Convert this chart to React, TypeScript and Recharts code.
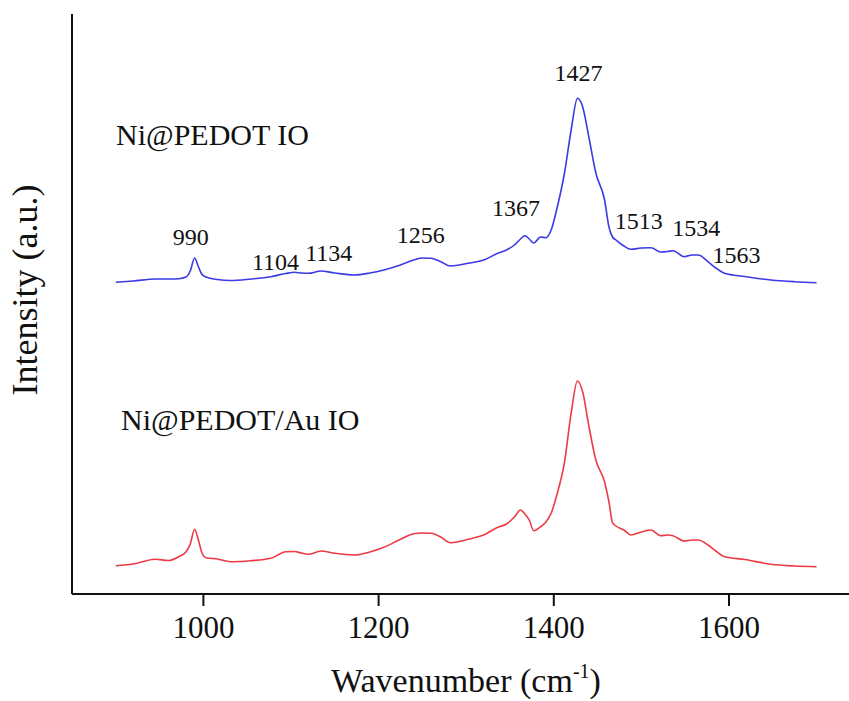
import React from 'react';
import { LineChart, Line, XAxis, YAxis, ReferenceDot } from 'recharts';

// Raman shift grid shared by both spectra (cm^-1)
const wavenumbers = [
  900, 920, 945, 960, 972, 980, 985, 990, 994, 998, 1003, 1016, 1031, 1054, 1077, 1094, 1104, 1112, 1120,
  1134, 1150, 1172, 1190, 1206, 1225, 1240, 1250, 1260, 1271, 1282, 1292, 1302, 1320, 1336, 1346, 1355,
  1362, 1367, 1372, 1377, 1385, 1391, 1397, 1404, 1412, 1420, 1427, 1433, 1440, 1448, 1458, 1463, 1467,
  1471, 1480, 1488, 1500, 1511, 1522, 1530, 1536, 1549, 1558, 1565, 1576, 1585, 1595, 1618, 1648, 1675,
  1700,
];

// Ni@PEDOT IO (offset upwards)
const pedotIO = [
  311.7, 313, 315, 315, 315.3, 317, 323, 336, 328, 320, 317, 314.5, 313.5, 315, 317.3, 320.5, 321.7, 321,
  320.7, 323, 321, 319, 321, 324, 329, 334, 336, 335.7, 332.3, 328, 329, 330.7, 334, 340.7, 344, 349, 355,
  358.3, 355, 351, 357, 356.3, 364, 387, 420, 465, 495.7, 487, 457, 421, 394, 367, 357, 354, 348, 344.7,
  346, 346.3, 342, 342.5, 343.3, 337.3, 339, 339, 332.3, 326, 320.7, 317.5, 314, 312.3, 311.3,
];

// Ni@PEDOT/Au IO
const pedotAuIO = [
  28.3, 30, 34.7, 33.5, 37.3, 42, 50, 64.7, 55, 42, 36.3, 35, 32.3, 33.3, 35.7, 42.3, 42.5, 41, 39.7, 43,
  40.7, 39, 42, 46.7, 54.7, 60.2, 61, 60.7, 57, 51.3, 52.5, 54.7, 59, 66.7, 70, 77, 84, 80, 74, 63.3, 67.3,
  72, 80.7, 100.7, 130.7, 182, 213, 202, 168, 134, 112, 92, 71.3, 68, 64, 59, 62, 64, 58.3, 59, 58.3, 53,
  54, 54, 49, 43, 37.3, 34.5, 29.7, 28, 27.3,
];

// assigned band positions
const peaks = [990, 1104, 1134, 1256, 1367, 1427, 1513, 1534, 1563];

const xTicks = [1000, 1200, 1400, 1600];

// where each band label sits: height in y units, horizontal nudge in px
const peakLabelPlacement = [
  { y: 357, dx: -4 },
  { y: 332, dx: -19 },
  { y: 341, dx: 8 },
  { y: 359, dx: -7 },
  { y: 386, dx: -9 },
  { y: 521, dx: 1 },
  { y: 373, dx: -14 },
  { y: 366, dx: 25 },
  { y: 339, dx: 40 },
];

const data = wavenumbers.map((w, i) => ({ w, io: pedotIO[i], au: pedotAuIO[i] }));

const FONT = 'Liberation Serif, DejaVu Serif, serif';
const textStyle = { fontFamily: FONT };

const App = () => {
  return (
    <div style={{ position: 'absolute', left: 0, top: 0, background: '#fff' }}>
      <LineChart width={849} height={701} data={data} margin={{ top: 14, right: 0, bottom: 0, left: 0 }}>
        <XAxis
          dataKey="w"
          type="number"
          domain={[850, 1737]}
          ticks={xTicks}
          height={107}
          stroke="#111"
          strokeWidth={2}
          tickSize={12}
          tickMargin={10}
          tick={{ fill: '#111', fontSize: 31, style: textStyle }}
          tickLine={{ stroke: '#111', strokeWidth: 2 }}
        />
        <YAxis
          type="number"
          domain={[0, 580]}
          width={72}
          tick={false}
          tickLine={false}
          stroke="#111"
          strokeWidth={2}
        />
        <Line
          dataKey="io"
          type="monotone"
          stroke="#3a3ae6"
          strokeWidth={1.6}
          dot={false}
          isAnimationActive={false}
        />
        <Line
          dataKey="au"
          type="monotone"
          stroke="#ec3b45"
          strokeWidth={1.6}
          dot={false}
          isAnimationActive={false}
        />
        {peaks.map((p, i) => (
          <ReferenceDot
            key={p}
            x={p}
            y={peakLabelPlacement[i].y}
            r={0}
            fill="none"
            stroke="none"
            label={(props: any) => (
              <text
                x={props.viewBox.x + peakLabelPlacement[i].dx}
                y={props.viewBox.y}
                textAnchor="middle"
                dominantBaseline="central"
                fontSize={24}
                style={textStyle}
                fill="#111"
              >
                {p}
              </text>
            )}
          />
        ))}
        <text x={116} y={145} fontSize={30} style={textStyle} fill="#111">
          Ni@PEDOT IO
        </text>
        <text x={121} y={430} fontSize={30} style={textStyle} fill="#111">
          Ni@PEDOT/Au IO
        </text>
        <text
          x={37}
          y={290}
          transform="rotate(-90 37 290)"
          textAnchor="middle"
          fontSize={36}
          style={textStyle}
          fill="#111"
        >
          Intensity (a.u.)
        </text>
        <text x={466} y={692} textAnchor="middle" fontSize={34} style={textStyle} fill="#111">
          Wavenumber (cm
          <tspan fontSize={20} dy={-14}>-1</tspan>
          <tspan dy={14}>)</tspan>
        </text>
      </LineChart>
    </div>
  );
};

export default App;
